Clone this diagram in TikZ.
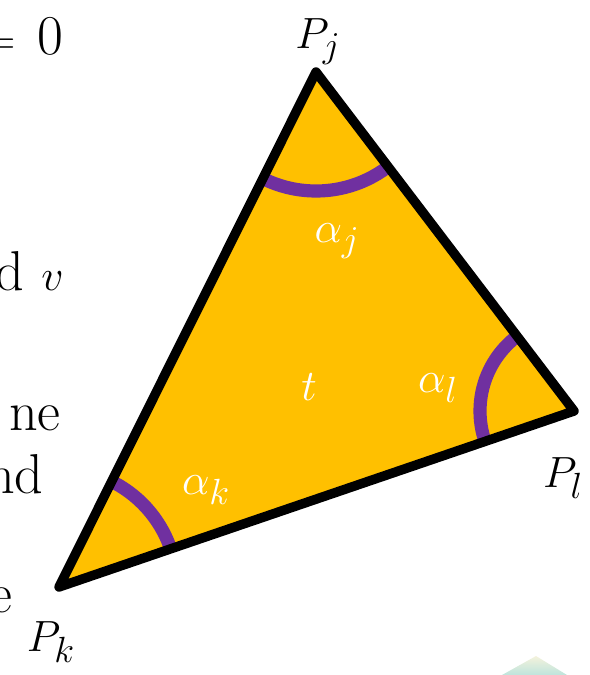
\documentclass[tikz,border=0pt]{standalone}
\begin{document}
\begin{tikzpicture}[
  x=0.02cm,y=-0.02cm,
  lab/.style={font=\fontsize{32}{38}\selectfont,inner sep=0pt},
  anglab/.style={lab,text=white},
  txt/.style={font=\fontsize{32}{38}\selectfont,inner sep=0pt},
  edge/.style={line width=5.4pt,line join=round},
  angarc/.style={draw=anglec,line width=7.5pt}]

  \definecolor{facec}{RGB}{255,192,0}
  \definecolor{anglec}{RGB}{112,48,160}
  \definecolor{tealc}{RGB}{190,228,220}
  \definecolor{paletop}{RGB}{244,242,220}

  \useasboundingbox (0,0) rectangle (589,675);

  % corners
  \coordinate (Pj) at (316,72);
  \coordinate (Pl) at (574,411);
  \coordinate (Pk) at (59,587);

  % face
  \fill[facec] (Pj) -- (Pl) -- (Pk) -- cycle;

  % angle arcs
  \begin{scope}
    \clip (Pj) -- (Pl) -- (Pk) -- cycle;
    \draw[angarc] (Pj) circle[radius=119];
    \draw[angarc] (Pl) circle[radius=94];
    \draw[angarc] (Pk) circle[radius=118];
  \end{scope}

  % edges
  \draw[edge] (Pj) -- (Pl) -- (Pk) -- cycle;

  % corner labels
  \node[lab] (labj) at (318,42) {$P_j$};
  \node[lab] (labl) at (563,478) {$P_l$};
  \node[lab] (labk) at (51,642) {$P_k$};

  % angle labels
  \node[anglab] (angj) at (337,241) {$\alpha_j$};
  \node[anglab] (angl) at (438,388) {$\alpha_l$};
  \node[anglab] (angk) at (206,490) {$\alpha_k$};
  \node[anglab] (face) at (309,387) {$t$};

  % slide text cut at the left
  \node[txt,anchor=base east] (eqzero) at (64,55) {$=$\hspace{0.4em}0};
  \node[txt,anchor=base east] (andv) at (64,290) {d $v$};
  \node[txt,anchor=base east] (linea) at (61,430) {ne};
  \node[txt,anchor=base east] (lineb) at (44,493) {nd};
  \node[txt,anchor=base east] (linec) at (13,612) {e};

  % faint shape at the bottom
  \shade[top color=paletop,bottom color=tealc]
    (502,675) -- (536,656) -- (567,675) -- cycle;
\end{tikzpicture}
\end{document}
